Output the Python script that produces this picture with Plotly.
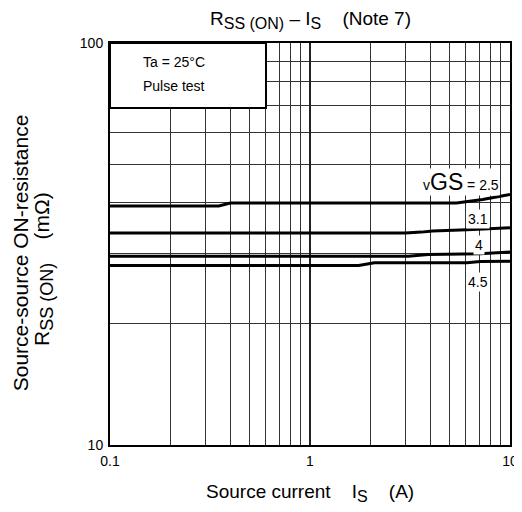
import math
import plotly.graph_objects as go

# ---- data ----
is_25 = [0.1, 0.35, 0.40, 5.4, 7.3, 8.9, 10]
r_25 = [39.3, 39.3, 40.0, 40.0, 40.8, 41.6, 42.0]

is_31 = [0.1, 3.0, 3.6, 4.1, 6.1, 10]
r_31 = [33.7, 33.7, 33.85, 34.05, 34.3, 34.7]

is_40 = [0.1, 3.1, 3.9, 6.1, 7.1, 10]
r_40 = [29.5, 29.5, 29.78, 29.8, 29.9, 30.2]

is_45 = [0.1, 1.75, 2.1, 6.1, 7.1, 10]
r_45 = [27.95, 27.95, 28.4, 28.4, 28.6, 28.65]

x_tickvals = [0.1, 1, 10]
x_ticktext = ["0.1", "1", "10"]
x_minor = [0.2, 0.3, 0.4, 0.5, 0.6, 0.7, 0.8, 0.9,
           2, 3, 4, 5, 6, 7, 8, 9]
y_tickvals = [10, 100]
y_ticktext = ["10", "100"]
y_minor = [20, 30, 40, 50, 60, 70, 80, 90]

label_text = ["3.1", "4", "4.5"]
label_x = [6.92, 7.0, 6.92]
label_y = [36.4, 31.4, 25.5]

FONT = "Liberation Sans, Arial, sans-serif"

fig = go.Figure()
for xs, ys in [(is_25, r_25), (is_31, r_31), (is_40, r_40), (is_45, r_45)]:
    fig.add_trace(go.Scatter(x=xs, y=ys, mode="lines",
                             line=dict(color="black", width=3),
                             showlegend=False, hoverinfo="skip"))

GRID = "#333333"
axis_common = dict(
    showline=True, linecolor="black", linewidth=2, mirror=True,
    showgrid=True, gridcolor="#222222", gridwidth=1.7,
    ticks="", zeroline=False, automargin=False,
    tickfont=dict(family=FONT, size=14, color="black"),
)

fig.update_xaxes(type="log", range=[-1, 1], tickvals=x_tickvals,
                 ticktext=x_ticktext, ticklabelstandoff=2,
                 minor=dict(tickvals=x_minor, showgrid=True,
                            gridcolor=GRID, gridwidth=1.1, ticks=""),
                 **axis_common)
fig.update_yaxes(type="log", range=[1, 2], tickvals=y_tickvals,
                 ticktext=y_ticktext, ticklabelstandoff=2,
                 minor=dict(tickvals=y_minor, showgrid=True,
                            gridcolor=GRID, gridwidth=1.1, ticks=""),
                 **axis_common)

# condition box
fig.add_shape(type="rect", xref="paper", yref="paper",
              x0=0, x1=0.39, y0=0.838, y1=1,
              fillcolor="white", line=dict(color="black", width=2),
              layer="above")

SUB = "<sub><span style='font-size:{s}px'>{t}</span></sub>"

annotations = [
    dict(xref="paper", yref="paper", x=0.078, y=0.953, xanchor="left",
         yanchor="middle", text="Ta = 25°C", showarrow=False,
         font=dict(family=FONT, size=14, color="black")),
    dict(xref="paper", yref="paper", x=0.078, y=0.893, xanchor="left",
         yanchor="middle", text="Pulse test", showarrow=False,
         font=dict(family=FONT, size=14, color="black")),
    dict(xref="x", yref="y", x=math.log10(5.69), y=math.log10(45.0),
         xanchor="center", yanchor="middle", showarrow=False,
         bgcolor="white", borderpad=0,
         text="<span style='font-size:14px'>v</span>"
              "<span style='font-size:23px'>GS</span>"
              "<span style='font-size:14px'> = 2.5</span>",
         font=dict(family=FONT, size=14, color="black")),
    # titles
    dict(xref="paper", yref="paper", x=0.5, y=1, yshift=23,
         xanchor="center", yanchor="middle", showarrow=False,
         text="R" + SUB.format(s=16, t="SS (ON)") + " – I"
              + SUB.format(s=16, t="S") + "    (Note 7)",
         font=dict(family=FONT, size=19, color="black")),
    dict(xref="paper", yref="paper", x=0.5, y=0, yshift=-48,
         xanchor="center", yanchor="middle", showarrow=False,
         text="Source current    I" + SUB.format(s=16, t="S")
              + "    (A)",
         font=dict(family=FONT, size=19, color="black")),
    dict(xref="paper", yref="paper", x=0, y=0.477, xshift=-90,
         xanchor="center", yanchor="middle", showarrow=False,
         textangle=-90,
         text="Source-source ON-resistance",
         font=dict(family=FONT, size=21, color="black")),
    dict(xref="paper", yref="paper", x=0, y=0.438, xshift=-66,
         xanchor="center", yanchor="middle", showarrow=False,
         textangle=-90,
         text="R" + SUB.format(s=18, t="SS (ON)") + "    (mΩ)",
         font=dict(family=FONT, size=21, color="black")),
]
for t, lx, ly in zip(label_text, label_x, label_y):
    annotations.append(dict(xref="x", yref="y", x=math.log10(lx),
                            y=math.log10(ly), xanchor="center",
                            yanchor="middle", showarrow=False,
                            bgcolor="white", borderpad=1, text=t,
                            font=dict(family=FONT, size=14, color="black")))

# page body has an 8px default margin, so the figure is sized to fit
fig.update_layout(
    width=514, height=496,
    margin=dict(l=102, r=12, t=35, b=59),
    paper_bgcolor="white", plot_bgcolor="white",
    annotations=annotations,
    font=dict(family=FONT, color="black"),
)

fig.write_html("out.html")
